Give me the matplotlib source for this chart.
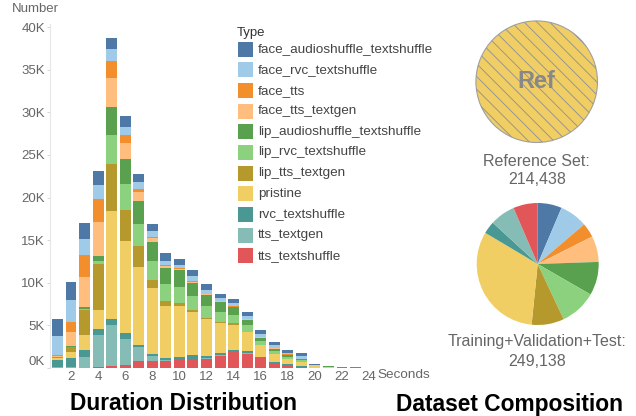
import matplotlib
matplotlib.use("Agg")
import matplotlib.pyplot as plt
from matplotlib.patches import Rectangle
import numpy as np

plt.rcParams['font.family'] = ['Liberation Sans', 'DejaVu Sans']

# ---------------- data ----------------
seconds = list(range(1, 25))
types = ["face_audioshuffle_textshuffle", "face_rvc_textshuffle", "face_tts",
         "face_tts_textgen", "lip_audioshuffle_textshuffle", "lip_rvc_textshuffle",
         "lip_tts_textgen", "pristine", "rvc_textshuffle", "tts_textgen",
         "tts_textshuffle"]
colors = ["#4E79A7", "#A0CBE8", "#F28E2B", "#FFBE7D", "#59A14F", "#8CD17D",
          "#B6992D", "#F1CE63", "#499894", "#86BCB6", "#E15759"]

# counts in thousands per duration bin (1..24 s)
face_audioshuffle_textshuffle = [2.0, 2.2, 1.9, 1.6, 1.3, 1.3, 1.0, 0.8, 0.85, 0.7, 0.75, 0.6, 0.45, 0.47, 0.47, 0.47, 0.4, 0.35, 0.35, 0.1, 0, 0, 0, 0]
face_rvc_textshuffle = [2.3, 2.5, 1.9, 1.7, 1.4, 0.95, 0.75, 0.7, 0.55, 0.43, 0.55, 0.5, 0.35, 0.45, 0.35, 0.35, 0.3, 0.2, 0.35, 0.03, 0, 0, 0, 0]
face_tts = [0.08, 1.2, 2.5, 2.65, 2.0, 0.95, 0.35, 0.12, 0.05, 0.08, 0.1, 0.05, 0.04, 0.02, 0.04, 0.05, 0.06, 0.02, 0, 0, 0, 0, 0, 0]
face_tts_textgen = [0.08, 1.6, 3.5, 4.0, 3.4, 1.9, 1.15, 0.55, 0.25, 0.15, 0.15, 0.07, 0.08, 0.03, 0.04, 0.07, 0.06, 0.02, 0, 0, 0, 0, 0, 0]
lip_audioshuffle_textshuffle = [0.03, 0.1, 0.3, 0.6, 3.3, 2.9, 2.6, 2.25, 1.95, 2.0, 1.5, 1.33, 1.17, 0.93, 0.6, 0.35, 0.27, 0.22, 0.05, 0, 0.1, 0.15, 0.12, 0]
lip_rvc_textshuffle = [0.03, 0.05, 0.15, 0.35, 3.4, 3.05, 2.6, 2.2, 1.9, 1.9, 1.7, 1.37, 1.15, 1.0, 0.8, 0.47, 0.27, 0.27, 0.25, 0, 0, 0, 0, 0]
lip_tts_textgen = [0.12, 0.6, 2.9, 5.4, 5.5, 3.7, 2.45, 0.95, 0.6, 0.25, 0.15, 0.08, 0.15, 0.15, 0.05, 0.07, 0.1, 0.05, 0.04, 0.04, 0, 0, 0, 0]
pristine = [0.2, 0.65, 1.7, 2.2, 12.7, 10.8, 9.15, 7.7, 6.1, 6.0, 5.1, 4.4, 3.55, 2.95, 2.25, 1.37, 0.9, 0.6, 0.5, 0.3, 0.1, 0, 0, 0]
rvc_textshuffle = [0.85, 1.1, 0.9, 0.8, 0.6, 0.6, 0.3, 0.3, 0.3, 0.25, 0.4, 0.27, 0.27, 0.12, 0.15, 0.12, 0.1, 0.1, 0.04, 0, 0, 0, 0, 0]
tts_textgen = [0.08, 0.1, 1.2, 3.7, 4.9, 3.05, 1.65, 0.5, 0.1, 0.08, 0.05, 0.03, 0.03, 0.08, 0.1, 0.05, 0.05, 0.02, 0.06, 0, 0, 0, 0, 0]
tts_textshuffle = [0, 0.02, 0.05, 0.12, 0.2, 0.4, 0.8, 0.85, 0.8, 1.0, 1.05, 1.1, 1.45, 1.95, 1.7, 1.13, 0.55, 0.3, 0.08, 0, 0, 0, 0, 0]

series = [face_audioshuffle_textshuffle, face_rvc_textshuffle, face_tts,
          face_tts_textgen, lip_audioshuffle_textshuffle, lip_rvc_textshuffle,
          lip_tts_textgen, pristine, rvc_textshuffle, tts_textgen, tts_textshuffle]

yticks = [0, 5, 10, 15, 20, 25, 30, 35, 40]
xticks = list(range(2, 25, 2))

# pie shares (percent) in legend order
composition = [6.4, 7.4, 3.8, 6.9, 8.9, 9.7, 8.6, 32.0, 3.3, 6.7, 6.5]
ref_total = 214438
full_total = 249138

# ---------------- figure ----------------
W, H = 636, 416
fig = plt.figure(figsize=(W / 100, H / 100), dpi=100)

def fx(px):
    return px / W

def fy(py):
    return 1 - py / H

# bar axes geometry (pixels)
x0_px, y0_px = 50.0, 368.0
xl, xr = 0.45, 25.0
ytop = 40.4
px_per_k = 8.525
step = 13.55
ax_w = (xr - xl) * step
ax_h = ytop * px_per_k
ax = fig.add_axes([fx(x0_px), fy(y0_px), fx(ax_w), ax_h / H])

bottom = np.zeros(len(seconds))
for name, col, vals in reversed(list(zip(types, colors, series))):
    v = np.array(vals)
    ax.bar(seconds, v, bottom=bottom, width=0.81, color=col, linewidth=0)
    bottom += v

ax.set_xlim(xl, xr)
ax.set_ylim(0, ytop)
ax.set_yticks(yticks)
ax.set_yticklabels([f"{t}K" for t in yticks])
ax.set_xticks(xticks)
ax.set_xticklabels([str(t) for t in xticks])
for s in ["top", "right", "bottom"]:
    ax.spines[s].set_visible(False)
ax.spines["left"].set_color("#e6e6e6")
ax.spines["left"].set_linewidth(0.8)
ax.tick_params(axis="y", length=2, width=0.6, color="#d0d0d0", pad=1.5,
               labelsize=9.5, labelcolor="#666666")
ax.tick_params(axis="x", length=0, pad=2, labelsize=9.5, labelcolor="#666666")
ylabels = ax.get_yticklabels()
ylabels[0].set_verticalalignment("bottom")

fig.text(fx(12), fy(8.5), "Number", fontsize=9.5, color="#666666", va="center", ha="left")
fig.text(fx(377), fy(375.5), "Seconds", fontsize=9.7, color="#666666", va="center", ha="left")

# legend (manual)
fig.text(fx(237), fy(32.7), "Type", fontsize=9.5, color="#333333", va="center", ha="left")
for i, (name, col) in enumerate(zip(types, colors)):
    yc = 49.3 + i * 20.64
    fig.patches.append(Rectangle((fx(238), fy(yc + 7.5)), fx(15), 15 / H,
                                 transform=fig.transFigure, facecolor=col,
                                 edgecolor="none", figure=fig))
    fig.text(fx(258), fy(yc), name, fontsize=9.7, color="#444444",
             va="center", ha="left")

# reference circle (hatched)
r1 = 62
axr = fig.add_axes([fx(536.7 - r1), fy(81.7 + r1), fx(2 * r1), 2 * r1 / H])
wedges, _ = axr.pie([ref_total], colors=["#F1CE63"], radius=1,
                    wedgeprops=dict(edgecolor="#a0a0a0", linewidth=0.8))
hstep = 13.0 / r1
for c in np.arange(-3.0, 3.0 + 1e-9, hstep):
    ln, = axr.plot([-1.2, 1.2], [c + 1.2, c - 1.2], color="#8f929a", lw=0.65,
                   zorder=wedges[0].get_zorder() + 0.1)
    ln.set_clip_path(wedges[0])
axr.set_xlim(-1.02, 1.02)
axr.set_ylim(-1.02, 1.02)
axr.set_aspect("auto")
axr.axis("off")
axr.text(0, 0, "Ref", fontsize=17, fontweight="bold", color="#888888",
         ha="center", va="center", zorder=5)
fig.text(fx(536.7), fy(161.7), "Reference Set:", fontsize=11.5, color="#666666", ha="center", va="center")
fig.text(fx(536.7), fy(180), f"{ref_total:,}", fontsize=11.5, color="#666666", ha="center", va="center")

# composition pie
r2 = 61
axp = fig.add_axes([fx(537.7 - r2), fy(264 + r2), fx(2 * r2), 2 * r2 / H])
axp.pie(composition, colors=colors, startangle=90, counterclock=False,
        radius=1, wedgeprops=dict(linewidth=0))
axp.set_xlim(-1.0, 1.0)
axp.set_ylim(-1.0, 1.0)
axp.set_aspect("auto")
axp.axis("off")
fig.text(fx(536.7), fy(341.7), "Training+Validation+Test:", fontsize=11.5, color="#666666", ha="center", va="center")
fig.text(fx(536.7), fy(361), f"{full_total:,}", fontsize=11.5, color="#666666", ha="center", va="center")

# titles
fig.text(fx(184), fy(404), "Duration Distribution", fontsize=16.4, fontweight="bold",
         color="#000000", ha="center", va="center")
fig.text(fx(510), fy(404), "Dataset Composition", fontsize=16.4, fontweight="bold",
         color="#000000", ha="center", va="center")

fig.savefig("out.png", dpi=100)
